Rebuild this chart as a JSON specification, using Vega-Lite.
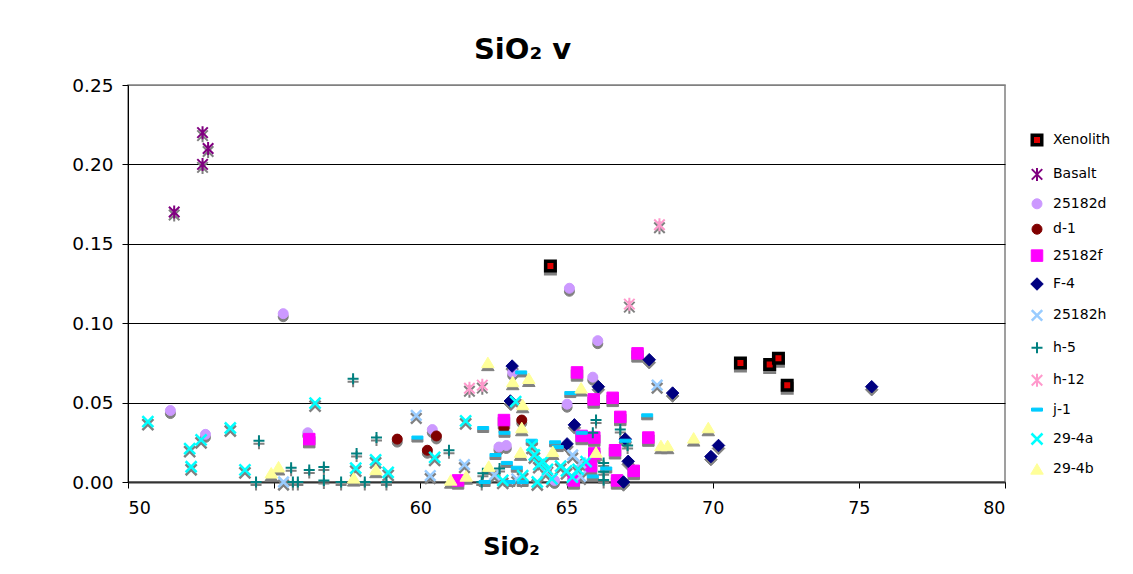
{
  "$schema": "https://vega.github.io/schema/vega-lite/v6.json",
  "autosize": "none",
  "width": 877,
  "height": 397,
  "padding": {"left": 128, "top": 85, "right": 128, "bottom": 92},
  "background": "white",
  "title": {"text": "SiO₂ v", "font": "DejaVu Sans", "fontSize": 29, "fontWeight": "bold", "color": "#000", "anchor": "middle", "frame": "group", "dx": -44, "offset": -12, "baseline": "alphabetic"},
  "data": {"values": [
    {"series": "Xenolith", "SiO2": 64.45, "v": 0.136},
    {"series": "Xenolith", "SiO2": 70.95, "v": 0.075},
    {"series": "Xenolith", "SiO2": 71.95, "v": 0.074},
    {"series": "Xenolith", "SiO2": 72.25, "v": 0.078},
    {"series": "Xenolith", "SiO2": 72.55, "v": 0.061},
    {"series": "Basalt", "SiO2": 51.58, "v": 0.170},
    {"series": "Basalt", "SiO2": 52.55, "v": 0.220},
    {"series": "Basalt", "SiO2": 52.55, "v": 0.200},
    {"series": "Basalt", "SiO2": 52.74, "v": 0.210},
    {"series": "25182d", "SiO2": 51.45, "v": 0.045},
    {"series": "25182d", "SiO2": 52.65, "v": 0.030},
    {"series": "25182d", "SiO2": 55.31, "v": 0.106},
    {"series": "25182d", "SiO2": 56.15, "v": 0.031},
    {"series": "25182d", "SiO2": 60.41, "v": 0.033},
    {"series": "25182d", "SiO2": 62.69, "v": 0.022},
    {"series": "25182d", "SiO2": 62.94, "v": 0.023},
    {"series": "25182d", "SiO2": 63.16, "v": 0.069},
    {"series": "25182d", "SiO2": 65.1, "v": 0.122},
    {"series": "25182d", "SiO2": 65.02, "v": 0.049},
    {"series": "25182d", "SiO2": 64.59, "v": 0.001},
    {"series": "25182d", "SiO2": 65.9, "v": 0.066},
    {"series": "25182d", "SiO2": 66.07, "v": 0.089},
    {"series": "d-1", "SiO2": 59.21, "v": 0.027},
    {"series": "d-1", "SiO2": 60.24, "v": 0.020},
    {"series": "d-1", "SiO2": 60.55, "v": 0.029},
    {"series": "d-1", "SiO2": 62.86, "v": 0.034},
    {"series": "d-1", "SiO2": 63.47, "v": 0.039},
    {"series": "25182f", "SiO2": 56.2, "v": 0.027},
    {"series": "25182f", "SiO2": 61.29, "v": 0.001},
    {"series": "25182f", "SiO2": 62.86, "v": 0.039},
    {"series": "25182f", "SiO2": 65.36, "v": 0.069},
    {"series": "25182f", "SiO2": 67.43, "v": 0.081},
    {"series": "25182f", "SiO2": 65.93, "v": 0.052},
    {"series": "25182f", "SiO2": 66.58, "v": 0.053},
    {"series": "25182f", "SiO2": 66.84, "v": 0.041},
    {"series": "25182f", "SiO2": 65.52, "v": 0.029},
    {"series": "25182f", "SiO2": 65.95, "v": 0.028},
    {"series": "25182f", "SiO2": 67.8, "v": 0.028},
    {"series": "25182f", "SiO2": 66.66, "v": 0.020},
    {"series": "25182f", "SiO2": 67.3, "v": 0.007},
    {"series": "25182f", "SiO2": 66.73, "v": 0.001},
    {"series": "25182f", "SiO2": 65.84, "v": 0.010},
    {"series": "25182f", "SiO2": 65.25, "v": 0.001},
    {"series": "25182f", "SiO2": 65.95, "v": 0.018},
    {"series": "F-4", "SiO2": 63.14, "v": 0.073},
    {"series": "F-4", "SiO2": 63.08, "v": 0.051},
    {"series": "F-4", "SiO2": 66.09, "v": 0.060},
    {"series": "F-4", "SiO2": 67.83, "v": 0.077},
    {"series": "F-4", "SiO2": 68.63, "v": 0.056},
    {"series": "F-4", "SiO2": 65.27, "v": 0.036},
    {"series": "F-4", "SiO2": 65.02, "v": 0.024},
    {"series": "F-4", "SiO2": 67.01, "v": 0.027},
    {"series": "F-4", "SiO2": 67.11, "v": 0.013},
    {"series": "F-4", "SiO2": 66.95, "v": 0.0},
    {"series": "F-4", "SiO2": 69.94, "v": 0.016},
    {"series": "F-4", "SiO2": 70.2, "v": 0.023},
    {"series": "F-4", "SiO2": 75.44, "v": 0.060},
    {"series": "25182h", "SiO2": 55.32, "v": 0.0},
    {"series": "25182h", "SiO2": 59.86, "v": 0.042},
    {"series": "25182h", "SiO2": 60.34, "v": 0.004},
    {"series": "25182h", "SiO2": 61.51, "v": 0.011},
    {"series": "25182h", "SiO2": 62.54, "v": 0.0045},
    {"series": "25182h", "SiO2": 65.21, "v": 0.017},
    {"series": "25182h", "SiO2": 65.48, "v": 0.012},
    {"series": "25182h", "SiO2": 65.48, "v": 0.0035},
    {"series": "25182h", "SiO2": 68.1, "v": 0.061},
    {"series": "25182h", "SiO2": 63.3, "v": 0.002},
    {"series": "25182h", "SiO2": 64.3, "v": 0.006},
    {"series": "h-5", "SiO2": 54.38, "v": 0.0},
    {"series": "h-5", "SiO2": 54.48, "v": 0.026},
    {"series": "h-5", "SiO2": 55.58, "v": 0.009},
    {"series": "h-5", "SiO2": 55.64, "v": 0.0},
    {"series": "h-5", "SiO2": 55.81, "v": 0.0},
    {"series": "h-5", "SiO2": 56.2, "v": 0.0075},
    {"series": "h-5", "SiO2": 56.7, "v": 0.0095},
    {"series": "h-5", "SiO2": 56.7, "v": 0.001},
    {"series": "h-5", "SiO2": 57.29, "v": 0.0},
    {"series": "h-5", "SiO2": 57.7, "v": 0.065},
    {"series": "h-5", "SiO2": 57.82, "v": 0.018},
    {"series": "h-5", "SiO2": 58.1, "v": 0.0},
    {"series": "h-5", "SiO2": 58.5, "v": 0.028},
    {"series": "h-5", "SiO2": 58.84, "v": 0.0},
    {"series": "h-5", "SiO2": 60.98, "v": 0.020},
    {"series": "h-5", "SiO2": 62.14, "v": 0.0055},
    {"series": "h-5", "SiO2": 62.1, "v": 0.0},
    {"series": "h-5", "SiO2": 62.71, "v": 0.0085},
    {"series": "h-5", "SiO2": 66.01, "v": 0.039},
    {"series": "h-5", "SiO2": 65.9, "v": 0.031},
    {"series": "h-5", "SiO2": 66.84, "v": 0.033},
    {"series": "h-5", "SiO2": 67.09, "v": 0.023},
    {"series": "h-5", "SiO2": 66.27, "v": 0.012},
    {"series": "h-5", "SiO2": 66.27, "v": 0.0065},
    {"series": "h-5", "SiO2": 66.27, "v": 0.0013},
    {"series": "h-12", "SiO2": 61.68, "v": 0.059},
    {"series": "h-12", "SiO2": 62.12, "v": 0.061},
    {"series": "h-12", "SiO2": 67.15, "v": 0.112},
    {"series": "h-12", "SiO2": 68.18, "v": 0.162},
    {"series": "j-1", "SiO2": 59.9, "v": 0.028},
    {"series": "j-1", "SiO2": 62.15, "v": 0.034},
    {"series": "j-1", "SiO2": 62.2, "v": 0.0},
    {"series": "j-1", "SiO2": 62.57, "v": 0.017},
    {"series": "j-1", "SiO2": 62.96, "v": 0.012},
    {"series": "j-1", "SiO2": 62.88, "v": 0.031},
    {"series": "j-1", "SiO2": 63.45, "v": 0.069},
    {"series": "j-1", "SiO2": 63.81, "v": 0.026},
    {"series": "j-1", "SiO2": 63.05, "v": 0.0},
    {"series": "j-1", "SiO2": 63.5, "v": 0.0},
    {"series": "j-1", "SiO2": 64.61, "v": 0.025},
    {"series": "j-1", "SiO2": 65.13, "v": 0.056},
    {"series": "j-1", "SiO2": 65.52, "v": 0.031},
    {"series": "j-1", "SiO2": 67.01, "v": 0.026},
    {"series": "j-1", "SiO2": 67.76, "v": 0.042},
    {"series": "j-1", "SiO2": 65.9, "v": 0.0035},
    {"series": "j-1", "SiO2": 66.36, "v": 0.0085},
    {"series": "j-1", "SiO2": 64.7, "v": 0.022},
    {"series": "j-1", "SiO2": 63.3, "v": 0.009},
    {"series": "29-4a", "SiO2": 50.68, "v": 0.038},
    {"series": "29-4a", "SiO2": 52.11, "v": 0.021},
    {"series": "29-4a", "SiO2": 52.5, "v": 0.0265},
    {"series": "29-4a", "SiO2": 52.16, "v": 0.0096},
    {"series": "29-4a", "SiO2": 53.5, "v": 0.034},
    {"series": "29-4a", "SiO2": 54.0, "v": 0.0076},
    {"series": "29-4a", "SiO2": 56.4, "v": 0.0496},
    {"series": "29-4a", "SiO2": 57.79, "v": 0.0088},
    {"series": "29-4a", "SiO2": 58.47, "v": 0.014},
    {"series": "29-4a", "SiO2": 58.9, "v": 0.006},
    {"series": "29-4a", "SiO2": 60.49, "v": 0.0155},
    {"series": "29-4a", "SiO2": 61.55, "v": 0.0385},
    {"series": "29-4a", "SiO2": 62.82, "v": 0.001},
    {"series": "29-4a", "SiO2": 63.26, "v": 0.0506},
    {"series": "29-4a", "SiO2": 63.82, "v": 0.023},
    {"series": "29-4a", "SiO2": 63.9, "v": 0.017},
    {"series": "29-4a", "SiO2": 64.2, "v": 0.013},
    {"series": "29-4a", "SiO2": 64.35, "v": 0.008},
    {"series": "29-4a", "SiO2": 64.5, "v": 0.002},
    {"series": "29-4a", "SiO2": 64.05, "v": 0.011},
    {"series": "29-4a", "SiO2": 65.0, "v": 0.007},
    {"series": "29-4a", "SiO2": 65.2, "v": 0.003},
    {"series": "29-4a", "SiO2": 65.67, "v": 0.0128},
    {"series": "29-4a", "SiO2": 63.5, "v": 0.004},
    {"series": "29-4a", "SiO2": 64.8, "v": 0.010},
    {"series": "29-4a", "SiO2": 64.0, "v": 0.0},
    {"series": "29-4a", "SiO2": 65.4, "v": 0.008},
    {"series": "29-4b", "SiO2": 54.9, "v": 0.0055},
    {"series": "29-4b", "SiO2": 55.15, "v": 0.0093},
    {"series": "29-4b", "SiO2": 57.72, "v": 0.0023},
    {"series": "29-4b", "SiO2": 58.48, "v": 0.0076},
    {"series": "29-4b", "SiO2": 61.04, "v": 0.001},
    {"series": "29-4b", "SiO2": 61.57, "v": 0.0035},
    {"series": "29-4b", "SiO2": 62.34, "v": 0.0097},
    {"series": "29-4b", "SiO2": 62.31, "v": 0.075},
    {"series": "29-4b", "SiO2": 63.16, "v": 0.063},
    {"series": "29-4b", "SiO2": 63.71, "v": 0.065},
    {"series": "29-4b", "SiO2": 63.5, "v": 0.0485},
    {"series": "29-4b", "SiO2": 63.47, "v": 0.034},
    {"series": "29-4b", "SiO2": 63.43, "v": 0.0185},
    {"series": "29-4b", "SiO2": 64.53, "v": 0.019},
    {"series": "29-4b", "SiO2": 65.5, "v": 0.059},
    {"series": "29-4b", "SiO2": 66.01, "v": 0.0185},
    {"series": "29-4b", "SiO2": 68.23, "v": 0.0227},
    {"series": "29-4b", "SiO2": 68.46, "v": 0.0227},
    {"series": "29-4b", "SiO2": 69.35, "v": 0.0275},
    {"series": "29-4b", "SiO2": 69.85, "v": 0.034}
  ]},
  "encoding": {
    "x": {"field": "SiO2", "type": "quantitative", "scale": {"domain": [50, 80], "nice": false, "zero": false},
      "axis": {"title": "SiO₂", "values": [50, 55, 60, 65, 70, 75, 80], "grid": false, "domainColor": "#333333", "domainWidth": 2, "tickColor": "#000", "tickSize": 6, "labelPadding": 11, "labelFontSize": 17.5, "labelFont": "DejaVu Sans", "labelColor": "#000", "titleFont": "DejaVu Sans", "titleFontSize": 24, "titleFontWeight": "bold", "titleColor": "#000", "titleX": 383, "titleY": 72, "titleAlign": "center", "titleBaseline": "alphabetic"}},
    "y": {"field": "v", "type": "quantitative", "scale": {"domain": [0, 0.25], "nice": false},
      "axis": {"title": null, "values": [0, 0.05, 0.1, 0.15, 0.2, 0.25], "format": ".2f", "grid": true, "gridColor": {"condition": {"test": "datum.value >= 0.25", "value": "#808080"}, "value": "#000000"}, "gridWidth": 1, "domainColor": "#000", "tickColor": "#000", "tickSize": 6, "labelPadding": 9, "labelFontSize": 18.5, "labelFont": "DejaVu Sans", "labelColor": "#000"}}
  },
  "layer": [
    {
      "mark": {"type": "point", "filled": true, "opacity": 1, "size": 100, "fill": "#808080", "stroke": "#808080", "yOffset": 3},
      "encoding": {
        "shape": {"field": "series", "type": "nominal", "legend": null,
          "scale": {"domain": ["Xenolith", "Basalt", "25182d", "d-1", "25182f", "F-4", "25182h", "h-5", "h-12", "j-1", "29-4a", "29-4b"],
            "range": ["M-0.95,-0.95L0.95,-0.95L0.95,0.95L-0.95,0.95Z", "M-1.05,-1.05L1.05,1.05M-1.05,1.05L1.05,-1.05M0,-1.3L0,1.3", "circle", "circle", "M-1.15,-1.15L1.15,-1.15L1.15,1.15L-1.15,1.15Z", "M0,-1.25L1.25,0L0,1.25L-1.25,0Z", "M-1.05,-1.05L1.05,1.05M-1.05,1.05L1.05,-1.05", "M-1.1,0L1.1,0M0,-1.1L0,1.1", "M-1.05,-1.05L1.05,1.05M-1.05,1.05L1.05,-1.05M0,-1.3L0,1.3", "M-1.1,-0.3L1.1,-0.3L1.1,0.3L-1.1,0.3Z", "M-1.1,-1.1L1.1,1.1M-1.1,1.1L1.1,-1.1", "M0,-1.15L1.25,0.95L-1.25,0.95Z"]}},
        "strokeWidth": {"field": "series", "type": "nominal", "legend": null,
          "scale": {"type": "ordinal", "domain": ["Xenolith", "Basalt", "25182d", "d-1", "25182f", "F-4", "25182h", "h-5", "h-12", "j-1", "29-4a", "29-4b"],
            "range": [3.5, 2, 1, 1, 1, 1, 2.5, 2, 2, 1, 2.5, 1]}}
      }
    },
    {
      "mark": {"type": "point", "filled": true, "opacity": 1, "size": 100},
      "encoding": {
        "fill": {"field": "series", "type": "nominal",
          "legend": {"title": null, "orient": "none", "legendX": 902, "legendY": 48},
          "scale": {"domain": ["Xenolith", "Basalt", "25182d", "d-1", "25182f", "F-4", "25182h", "h-5", "h-12", "j-1", "29-4a", "29-4b"],
            "range": ["#E00000", "#800080", "#CC99FF", "#800000", "#FF00FF", "#000080", "#99CCFF", "#008080", "#FF99CC", "#00CCFF", "#00FFFF", "#FFFF99"]}},
        "stroke": {"field": "series", "type": "nominal",
          "legend": {"title": null, "orient": "none", "legendX": 902, "legendY": 48},
          "scale": {"domain": ["Xenolith", "Basalt", "25182d", "d-1", "25182f", "F-4", "25182h", "h-5", "h-12", "j-1", "29-4a", "29-4b"],
            "range": ["#000000", "#800080", "#CC99FF", "#800000", "#FF00FF", "#000080", "#99CCFF", "#008080", "#FF99CC", "#00CCFF", "#00FFFF", "#FFFF99"]}},
        "shape": {"field": "series", "type": "nominal",
          "legend": {"title": null, "orient": "none", "legendX": 902, "legendY": 48},
          "scale": {"domain": ["Xenolith", "Basalt", "25182d", "d-1", "25182f", "F-4", "25182h", "h-5", "h-12", "j-1", "29-4a", "29-4b"],
            "range": ["M-0.95,-0.95L0.95,-0.95L0.95,0.95L-0.95,0.95Z", "M-1.05,-1.05L1.05,1.05M-1.05,1.05L1.05,-1.05M0,-1.3L0,1.3", "circle", "circle", "M-1.15,-1.15L1.15,-1.15L1.15,1.15L-1.15,1.15Z", "M0,-1.25L1.25,0L0,1.25L-1.25,0Z", "M-1.05,-1.05L1.05,1.05M-1.05,1.05L1.05,-1.05", "M-1.1,0L1.1,0M0,-1.1L0,1.1", "M-1.05,-1.05L1.05,1.05M-1.05,1.05L1.05,-1.05M0,-1.3L0,1.3", "M-1.1,-0.3L1.1,-0.3L1.1,0.3L-1.1,0.3Z", "M-1.1,-1.1L1.1,1.1M-1.1,1.1L1.1,-1.1", "M0,-1.15L1.25,0.95L-1.25,0.95Z"]}},
        "strokeWidth": {"field": "series", "type": "nominal",
          "legend": {"title": null, "orient": "none", "legendX": 902, "legendY": 48},
          "scale": {"type": "ordinal", "domain": ["Xenolith", "Basalt", "25182d", "d-1", "25182f", "F-4", "25182h", "h-5", "h-12", "j-1", "29-4a", "29-4b"],
            "range": [3.5, 2, 1, 1, 1, 1, 2.5, 2, 2, 1, 2.5, 1]}}
      }
    }
  ],
  "resolve": {"scale": {"fill": "independent", "stroke": "independent", "shape": "independent", "strokeWidth": "independent"}},
  "config": {
    "font": "DejaVu Sans",
    "view": {"stroke": "#808080", "strokeWidth": 1.5},
    "legend": {"labelFont": "DejaVu Sans", "labelFontSize": 14, "labelColor": "#000", "symbolSize": 100, "rowPadding": 11.4, "labelOffset": 9, "padding": 0}
  }
}
